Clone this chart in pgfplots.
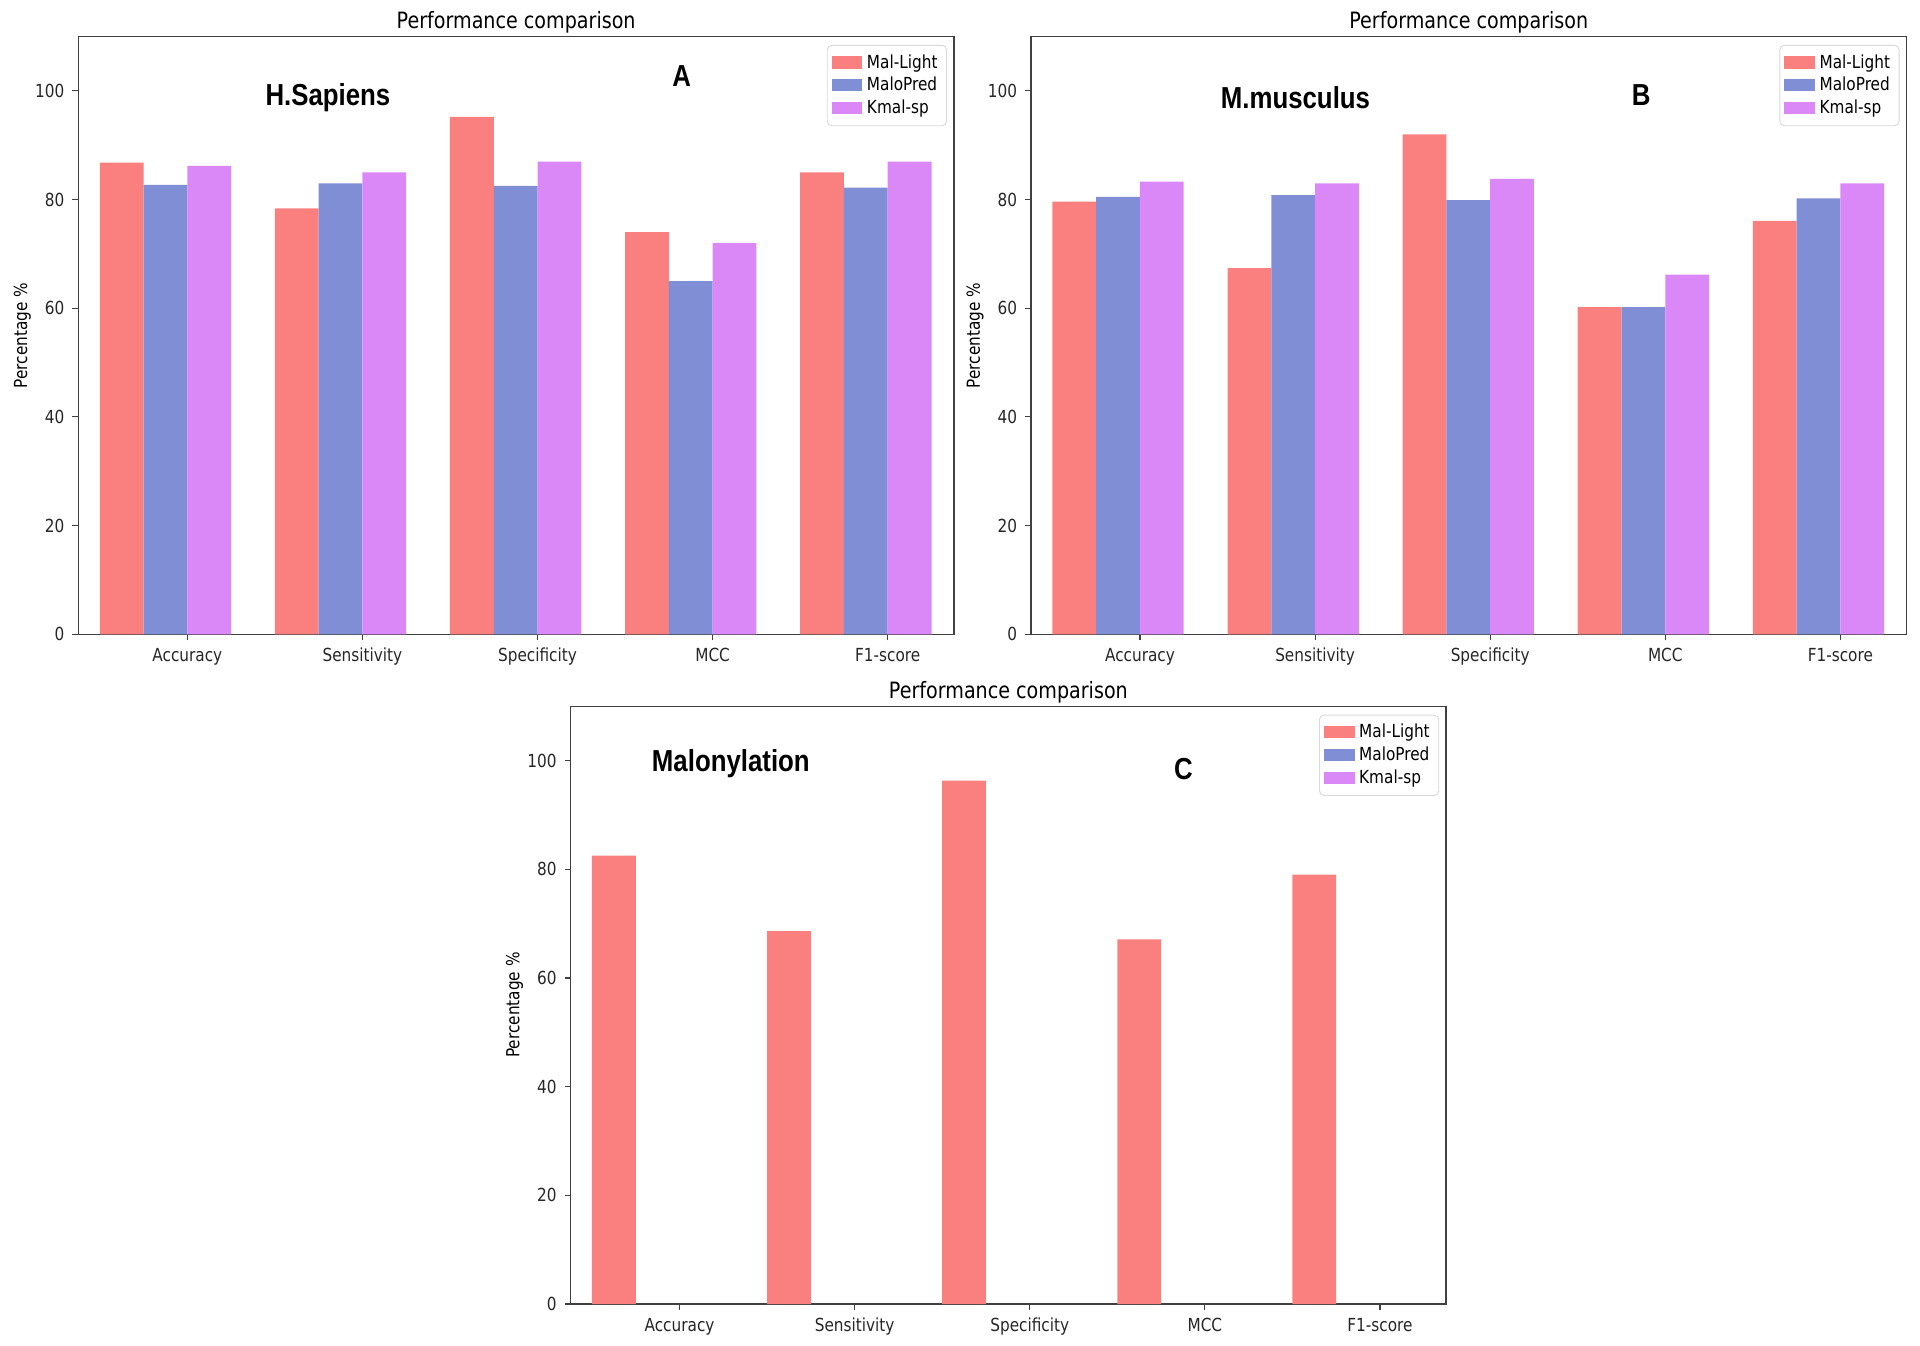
\documentclass[border=0pt]{standalone}
\usepackage{fontspec}
\setmainfont{DejaVu Sans}[FakeStretch=0.85]
\newfontfamily\annfont{Liberation Sans}[FakeStretch=0.85]
\usepackage{pgfplots}
\pgfplotsset{compat=1.18}
\definecolor{cML}{RGB}{250,128,128}
\definecolor{cMP}{RGB}{128,142,214}
\definecolor{cKS}{RGB}{218,136,248}
\tikzset{annot/.style={font=\annfont\bfseries\fontsize{13.5}{15}\selectfont}}
\pgfplotsset{perf/.style={
  scale only axis, width=13.68cm, height=9.34cm,
  xmin=-0.622, xmax=4.378, ymin=0, ymax=110,
  xtick={0,1,2,3,4}, xticklabels={Accuracy,Sensitivity,Specificity,MCC,F1-score},
  ytick={0,20,40,60,80,100},
  tick align=outside, xtick pos=bottom, ytick pos=left, major tick length=2.7pt,
  /pgf/number format/assume math mode=true,
  tick label style={font=\fontsize{8}{9}\selectfont, text=black!85},
  tick style={black!75, line width=0.5pt},
  ylabel={Percentage \%}, ylabel style={font=\fontsize{8}{9}\selectfont, yshift=-5pt},
  title={Performance comparison}, title style={font=\fontsize{10}{12}\selectfont, yshift=-8pt},
  axis line style={black!75, line width=0.6pt},
  ybar, bar width=0.25,
  legend style={at={(0.992,0.986)}, anchor=north east, font=\fontsize{8}{8}\selectfont, draw=black!15, rounded corners=2pt, inner sep=2pt, row sep=-1.5pt},
  legend cell align=left,
  legend image code/.code={\fill[##1, sharp corners] (0cm,-0.09cm) rectangle (0.48cm,0.1cm);},
}}
\begin{document}
\begin{tikzpicture}
\useasboundingbox (0,0) rectangle (30cm,21.016cm);
% Panel A
\begin{axis}[perf, at={(1.225cm,11.105cm)}, anchor=south west]
\addplot[fill=cML, draw=none, bar shift=0pt] coordinates {(-0.375,86.8) (0.625,78.4) (1.625,95.2) (2.625,74.0) (3.625,85.0)};
\addplot[fill=cMP, draw=none, bar shift=0pt] coordinates {(-0.125,82.7) (0.875,83.0) (1.875,82.5) (2.875,65.0) (3.875,82.2)};
\addplot[fill=cKS, draw=none, bar shift=0pt] coordinates {(0.125,86.2) (1.125,85.0) (2.125,87.0) (3.125,72.0) (4.125,87.0)};
\legend{Mal-Light,MaloPred,Kmal-sp}
\node[annot] at (rel axis cs:0.285,0.897) {H.Sapiens};
\node[annot] at (rel axis cs:0.689,0.934) {A};
\end{axis}
% Panel B
\begin{axis}[perf, at={(16.11cm,11.105cm)}, anchor=south west]
\addplot[fill=cML, draw=none, bar shift=0pt] coordinates {(-0.375,79.6) (0.625,67.4) (1.625,92.0) (2.625,60.2) (3.625,76.1)};
\addplot[fill=cMP, draw=none, bar shift=0pt] coordinates {(-0.125,80.5) (0.875,80.8) (1.875,79.9) (2.875,60.2) (3.875,80.2)};
\addplot[fill=cKS, draw=none, bar shift=0pt] coordinates {(0.125,83.3) (1.125,83.0) (2.125,83.8) (3.125,66.2) (4.125,83.0)};
\legend{Mal-Light,MaloPred,Kmal-sp}
\node[annot] at (rel axis cs:0.302,0.897) {M.musculus};
\node[annot] at (rel axis cs:0.697,0.902) {B};
\end{axis}
% Panel C
\begin{axis}[perf, at={(8.916cm,0.641cm)}, anchor=south west]
\addplot[fill=cML, draw=none, bar shift=0pt] coordinates {(-0.375,82.5) (0.625,68.6) (1.625,96.3) (2.625,67.1) (3.625,79.0)};
\addlegendentry{Mal-Light}
\addlegendimage{fill=cMP, draw=none}
\addlegendentry{MaloPred}
\addlegendimage{fill=cKS, draw=none}
\addlegendentry{Kmal-sp}
\node[annot] at (rel axis cs:0.183,0.904) {Malonylation};
\node[annot] at (rel axis cs:0.70,0.895) {C};
\end{axis}
\end{tikzpicture}
\end{document}
